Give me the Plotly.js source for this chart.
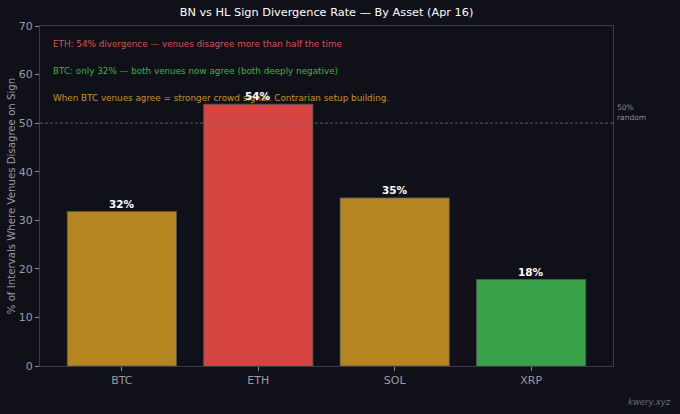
<!DOCTYPE html>
<html>
<head>
<meta charset="utf-8">
<script src="https://cdn.plot.ly/plotly-3.0.1.min.js"></script>
<style>html,body{margin:0;padding:0;background:#0f1018;}#chart{width:680px;height:414px;}</style>
</head>
<body>
<div id="chart"></div>
<script>
const assets = ["BTC", "ETH", "SOL", "XRP"];
const divergence = [31.8, 53.9, 34.6, 17.8];
const barColors = ["#b5851f", "#d64541", "#b5851f", "#38a14a"];
const barLabels = ["32%", "54%", "35%", "18%"];
const yTicks = [0, 10, 20, 30, 40, 50, 60, 70];
const notes = [
  {text: "ETH: 54% divergence — venues disagree more than half the time", color: "#d9534f"},
  {text: "BTC: only 32% — both venues now agree (both deeply negative)", color: "#3bb04f"},
  {text: "When BTC venues agree = stronger crowd signal. Contrarian setup building.", color: "#c9952a"}
];
const randomLevel = 50;

const font = "DejaVu Sans, sans-serif";
const annotations = [];
notes.forEach((n, i) => {
  annotations.push({
    xref: "paper", yref: "paper", x: 0.019, y: 0.946 - i * 0.079,
    xanchor: "left", yanchor: "middle", showarrow: false,
    text: n.text, font: {family: font, size: 8.8, color: n.color}
  });
});
assets.forEach((a, i) => {
  annotations.push({
    x: a, y: divergence[i], xref: "x", yref: "y", yanchor: "bottom", yshift: 0,
    showarrow: false, text: "<b>" + barLabels[i] + "</b>",
    font: {family: font, size: 10.5, color: "#ffffff"}
  });
});
annotations.push({
  xref: "paper", yref: "y", x: 1.003, y: randomLevel, xanchor: "left", yanchor: "bottom",
  yshift: -1, showarrow: false, align: "left", text: "50%<br>random",
  font: {family: font, size: 7.5, color: "#8a8d96"}
});

const data = [{
  type: "bar", x: assets, y: divergence, width: 0.8,
  marker: {color: barColors, line: {color: "#555a66", width: 0.8}},
  hoverinfo: "none"
}];

const layout = {
  width: 680, height: 414,
  paper_bgcolor: "#0f1018", plot_bgcolor: "#0f1018",
  margin: {l: 40, r: 67, t: 26, b: 48},
  title: {text: "BN vs HL Sign Divergence Rate — By Asset (Apr 16)", xref: "paper", x: 0.5, xanchor: "center",
    yref: "container", y: 0.971, yanchor: "middle",
    font: {family: font, size: 11.3, color: "#ffffff"}},
  showlegend: false,
  xaxis: {
    range: [-0.6, 3.6], showgrid: false, zeroline: false,
    showline: true, linecolor: "#3a3d47", mirror: true, linewidth: 1,
    ticks: "outside", ticklen: 4, tickcolor: "#8a8d96",
    tickfont: {family: font, size: 11, color: "#9a9ca5"}
  },
  yaxis: {
    range: [0, 70], tickvals: yTicks, showgrid: false, zeroline: false,
    showline: true, linecolor: "#3a3d47", mirror: true, linewidth: 1,
    ticks: "outside", ticklen: 4, tickcolor: "#8a8d96",
    tickfont: {family: font, size: 11, color: "#9a9ca5"},
    title: {text: "% of Intervals Where Venues Disagree on Sign", standoff: 1,
      font: {family: font, size: 10.2, color: "#9a9ca5"}}
  },
  shapes: [{
    type: "line", xref: "paper", x0: 0, x1: 1, yref: "y", y0: randomLevel, y1: randomLevel,
    line: {color: "#6a6d76", width: 0.8, dash: "3px,2px"}
  }],
  annotations: annotations.concat([{
    xref: "paper", yref: "paper", x: 1.105, y: -0.105, xanchor: "right", yanchor: "middle",
    showarrow: false, text: "<i>kwery.xyz</i>", font: {family: font, size: 8.5, color: "#6a6d76"}
  }])
};

Plotly.newPlot("chart", data, layout, {displayModeBar: false, staticPlot: true});
</script>
</body>
</html>
